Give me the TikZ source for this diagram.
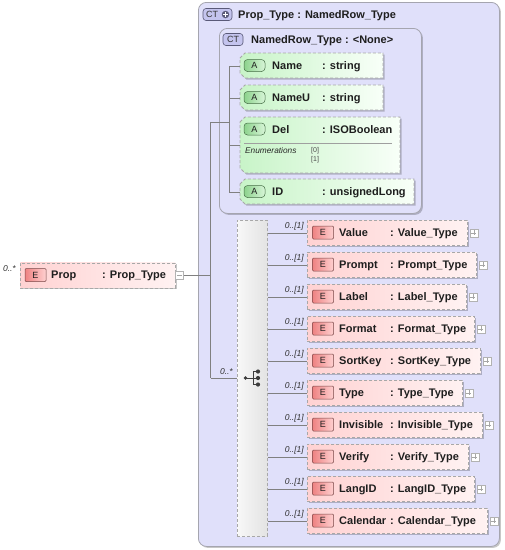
\documentclass[tikz,border=0pt]{standalone}
\usepackage{fontspec}
\setmainfont{Liberation Sans}
\usetikzlibrary{shadows}
\definecolor{ctfill}{RGB}{224,224,250}
\definecolor{ctline}{RGB}{165,165,175}
\definecolor{connc}{RGB}{128,128,128}
\definecolor{elL}{RGB}{255,210,210}
\definecolor{elR}{RGB}{255,242,242}
\definecolor{ebL}{RGB}{238,130,130}
\definecolor{ebR}{RGB}{255,208,208}
\definecolor{ebline}{RGB}{120,70,70}
\definecolor{atL}{RGB}{200,244,200}
\definecolor{atR}{RGB}{248,255,248}
\definecolor{abL}{RGB}{140,210,140}
\definecolor{abR}{RGB}{215,245,215}
\definecolor{abline}{RGB}{70,110,70}
\definecolor{dashc}{RGB}{168,168,168}
\definecolor{badgeC}{RGB}{196,196,238}
\definecolor{badgeL}{RGB}{90,90,120}
\definecolor{txtc}{RGB}{30,30,30}
\definecolor{iconc}{RGB}{60,60,60}
\begin{document}
\begin{tikzpicture}[x=1pt,y=-1pt,
  txt/.style={font=\fontsize{11}{13}\selectfont\bfseries, text=txtc, inner sep=0pt},
  mult/.style={font=\fontsize{8.5}{10}\selectfont\itshape, text=black!80, inner sep=0pt},
  small/.style={font=\fontsize{7}{8}\selectfont, text=black!70, inner sep=0pt},
  conn/.style={draw=connc, line width=0.6pt},
  shad/.style={drop shadow={shadow xshift=1.5pt, shadow yshift=-1.5pt, opacity=0.22, fill=black}},
  dashline/.style={draw=dashc, line width=0.8pt, dash pattern=on 3pt off 2pt},
  elbox/.style={dashline, left color=elL, right color=elR, inner sep=0pt, shad},
  attrbox/.style={dashline, left color=atL, right color=atR, shad},
  ebadge/.style={draw=ebline, line width=0.5pt, left color=ebL, right color=ebR, minimum width=21pt, minimum height=13pt, inner sep=0pt, rounded corners=1pt, font=\fontsize{9}{10}\selectfont, text=txtc},
  abadge/.style={draw=abline, line width=0.5pt, left color=abL, right color=abR, minimum width=21pt, minimum height=12pt, inner sep=0pt, rounded corners=3.5pt, font=\fontsize{9}{10}\selectfont, text=txtc},
  ctbadge/.style={draw=badgeL, line width=0.6pt, fill=badgeC, minimum height=12pt, inner sep=0pt, rounded corners=3pt, font=\fontsize{9}{10}\selectfont, text=black!80},
  ctbox/.style={draw=ctline, line width=0.8pt, fill=ctfill, rounded corners=8pt, inner sep=0pt, shad},
  seqbox/.style={dashline, left color=gray!6, right color=gray!22, inner sep=0pt},
  expbox/.style={draw=gray!60, fill=white, line width=0.5pt, minimum size=8pt, inner sep=0pt},
]
\useasboundingbox (0,0) rectangle (505,550);

% outer complex type
\node[ctbox, anchor=north west, minimum width=301pt, minimum height=544pt] (ctOuter) at (198,2) {};
\node[ctbadge, minimum width=29pt] (ctOuterB) at (217.5,14.5) {};
\node[anchor=west, inner sep=0pt, font=\fontsize{9}{10}\selectfont, text=black!80] (ctOuterBT) at (206,14.7) {CT};
\node[circle, fill=badgeL, minimum size=7.5pt, inner sep=0pt] (ctPlus) at (225.5,14.5) {};
\draw[white, line width=1.1pt] (ctPlus.west) ++(1.4pt,0) -- ++(4.7pt,0);
\draw[white, line width=1.1pt] (ctPlus.north) ++(0,-1.4pt) -- ++(0,-4.7pt);
\node[txt, anchor=base west] (ctOuterT) at (238,18) {Prop\_Type : NamedRow\_Type};

% inner complex type
\node[ctbox, anchor=north west, minimum width=202pt, minimum height=185pt] (ctInner) at (219,28) {};
\node[ctbadge, minimum width=20pt] (ctInnerB) at (233,39.5) {CT};
\node[txt, anchor=base west] (ctInnerT) at (251,43.5) {NamedRow\_Type : <None>};

% attributes
\path[attrbox] (240,58) -- (245,53) -- (383,53) -- (383,78) -- (245,78) -- (240,73) -- cycle;
\path[attrbox] (240,90) -- (245,85) -- (383,85) -- (383,110) -- (245,110) -- (240,105) -- cycle;
\path[attrbox] (240,122) -- (245,117) -- (400,117) -- (400,173) -- (245,173) -- (240,168) -- cycle;
\path[attrbox] (240,184) -- (245,179) -- (414,179) -- (414,204) -- (245,204) -- (240,199) -- cycle;
\coordinate (aName) at (240,66);
\coordinate (aNameU) at (240,98);
\coordinate (aDel) at (240,145);
\coordinate (aID) at (240,192);

\node[abadge] (abName) at (254.5,65.5) {A};
\node[txt, anchor=base west] (tName) at (272,69.5) {Name};
\node[txt, anchor=base west] (tNameT) at (322,69.5) {: string};
\node[abadge] (abNameU) at (254.5,97.5) {A};
\node[txt, anchor=base west] (tNameU) at (272,101.5) {NameU};
\node[txt, anchor=base west] (tNameUT) at (322,101.5) {: string};
\node[abadge] (abDel) at (254.5,129) {A};
\node[txt, anchor=base west] (tDel) at (272,133) {Del};
\node[txt, anchor=base west] (tDelT) at (322,133) {: ISOBoolean};
\draw[gray!75, line width=0.6pt] (244,143) -- (392,143);
\node[anchor=base west, inner sep=0pt, font=\fontsize{8.3}{9}\selectfont\itshape, text=black!85] (tEnum) at (245,153) {Enumerations};
\node[small, anchor=base west] (tE0) at (311,152.5) {[0]};
\node[small, anchor=base west] (tE1) at (311,161) {[1]};
\node[abadge] (abID) at (254.5,191.5) {A};
\node[txt, anchor=base west] (tID) at (272,195.5) {ID};
\node[txt, anchor=base west] (tIDT) at (322,195.5) {: unsignedLong};

% attribute bus
\coordinate (abusT) at (229,66);
\coordinate (abusB) at (229,192);
\draw[conn] (abusT) -- (abusB);
\foreach \a in {aName,aNameU,aDel,aID} \draw[conn] (abusT |- \a) -- (\a);

% main bus
\coordinate (mbusT) at (210.5,122);
\coordinate (mbusB) at (210.5,378);
\draw[conn] (mbusT) -- (mbusB);
\draw[conn] (mbusT) -- (abusT |- mbusT);

% Prop element
\node[elbox, anchor=north west, minimum width=155pt, minimum height=25pt] (prop) at (20,262.5) {};
\node[ebadge] (propB) at (35.5,275) {E};
\node[txt, anchor=base west] (propN) at (51,278.5) {Prop};
\node[txt, anchor=base west] (propT) at (102,278.5) {: Prop\_Type};
\node[mult, anchor=base east] (propM) at (16,271) {0..*};
\node[expbox] (propX) at (179.5,275) {};
\draw[gray!70, line width=0.6pt] (propX.west) ++(1.5pt,0) -- ++(5pt,0);
\draw[conn] (propX.east) -- (mbusT |- propX.east);

% sequence
\node[seqbox, anchor=north west, minimum width=30pt, minimum height=316pt] (seq) at (237,220) {};
\draw[conn] (mbusB) -- (seq.west |- mbusB);
\node[mult, anchor=base east] (seqM) at (233,374) {0..*};
\coordinate (sq) at (253,378);
\draw[iconc, line width=0.9pt] (245.5,378) -- (sq);
\draw[iconc, line width=0.9pt] (253,371.5) -- (253,384.5);
\draw[iconc, line width=0.9pt] (253,371.5) -- (258,371.5);
\draw[iconc, line width=0.9pt] (sq) -- (258,378);
\draw[iconc, line width=0.9pt] (253,384.5) -- (258,384.5);
\fill[iconc] (245.5,378) circle (1.9pt);
\fill[iconc] (258,371.5) circle (2.1pt);
\fill[iconc] (258,378) circle (2.1pt);
\fill[iconc] (258,384.5) circle (2.1pt);

% child elements
\foreach \n/\t/\r [count=\i from 0] in {Value/Value\_Type/467,Prompt/Prompt\_Type/476,Label/Label\_Type/466,Format/Format\_Type/474,SortKey/SortKey\_Type/480,Type/Type\_Type/462,Invisible/Invisible\_Type/482,Verify/Verify\_Type/468,LangID/LangID\_Type/474,Calendar/Calendar\_Type/487}{
  \pgfmathsetmacro\yc{232.5+32*\i}
  \pgfmathsetmacro\w{\r-307}
  \node[elbox, anchor=north west, minimum width=\w pt, minimum height=25pt] (e\i) at (307,\yc-12.5) {};
  \node[ebadge] (eb\i) at (323,\yc) {E};
  \node[txt, anchor=base west] (en\i) at (339,\yc+3.7) {\n};
  \node[txt, anchor=base west] (et\i) at (390,\yc+3.7) {: \t};
  \node[mult, anchor=base east] (em\i) at (304,\yc-4) {0..[1]};
  \node[expbox] (ex\i) at (\r+7,\yc+0.5) {};
  \draw[gray!70, line width=0.6pt] (ex\i.west) ++(1.5pt,0) -- ++(5pt,0);
  \draw[gray!70, line width=0.6pt] (ex\i.north) ++(0,-1.5pt) -- ++(0,-5pt);
  \draw[conn] (seq.east |- e\i.west) -- (e\i.west);
}
\end{tikzpicture}
\end{document}
